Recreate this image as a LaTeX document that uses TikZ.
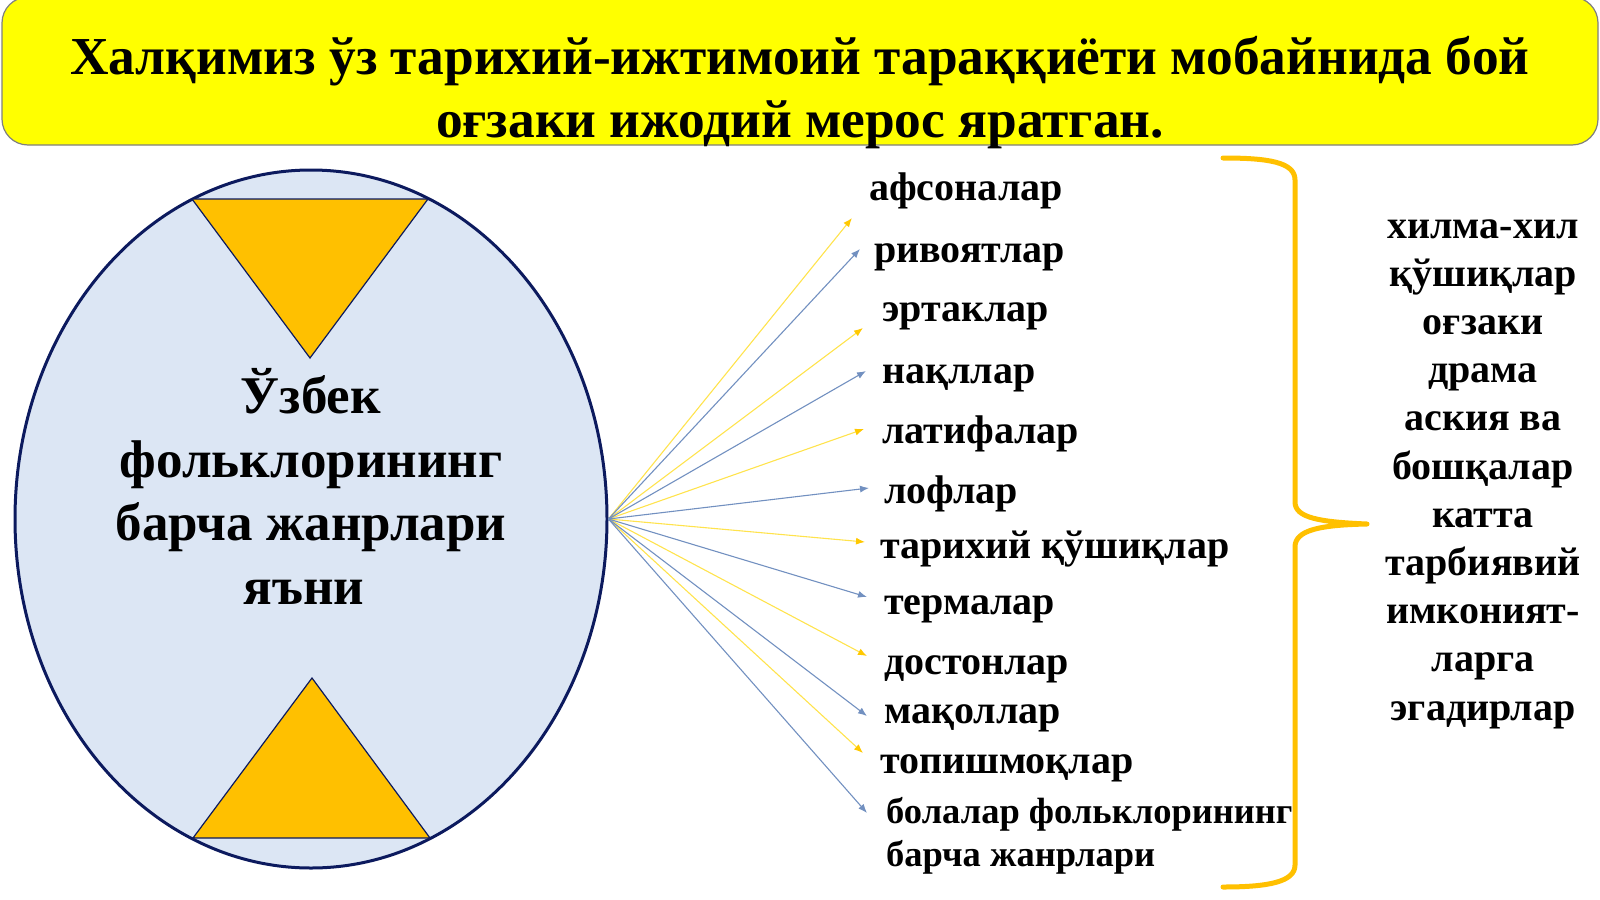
\documentclass[tikz,border=0pt]{standalone}
\usepackage{fontspec}
\setmainfont{Liberation Serif}
\usetikzlibrary{shapes.geometric,arrows.meta}
\definecolor{titleyellow}{HTML}{FFFF00}
\definecolor{titleline}{HTML}{7F7F7F}
\definecolor{ellfill}{HTML}{DCE6F4}
\definecolor{ellline}{HTML}{0C1A5E}
\definecolor{triorange}{HTML}{FFC000}
\definecolor{arry}{HTML}{FFE34D}
\definecolor{arryh}{HTML}{FFC800}
\definecolor{arrb}{HTML}{7290C0}
\begin{document}
\begin{tikzpicture}[x=1pt,y=-1pt,
  lbl/.style={anchor=base west,inner sep=0pt,font=\bfseries\fontsize{40}{40}\selectfont},
  yarr/.style={draw=arry,line width=1.1pt,-{Latex[length=9pt,width=7pt,color=arryh]}},
  barr/.style={draw=arrb,line width=1.1pt,-{Latex[length=9pt,width=7pt,color=arrb]}},
  tri/.style={fill=triorange,draw=ellline,line width=1.2pt,line join=miter}]
\useasboundingbox (0,0) rectangle (1600,899);
% title box
\node[draw=titleline,fill=titleyellow,line width=1.2pt,rounded corners=26pt,
  minimum width=1596pt,minimum height=148pt,inner sep=0pt] (title) at (800,71) {};
\node[align=center,inner sep=0pt,font=\bfseries\fontsize{53.4}{63}\selectfont] (titletext) at (800,93)
  {\strut Халқимиз ўз тарихий-ижтимоий тараққиёти мобайнида бой\\оғзаки ижодий мерос яратган.\strut};
% ellipse
\node[ellipse,draw=ellline,fill=ellfill,line width=3pt,minimum width=592pt,minimum height=698pt,inner sep=0pt] (E) at (311,519) {};
\draw[tri] (192,199) -- (428,199) -- (310,358) -- cycle;
\draw[tri] (193,838) -- (430,838) -- (312,678) -- cycle;
\node[align=center,inner sep=0pt,font=\bfseries\fontsize{53}{63.5}\selectfont] (ctext) at (311,496)
  {\strut Ўзбек\\фольклорининг\\барча жанрлари\\яъни\hspace*{14pt}\strut};
% labels
\node[lbl] (l1) at (869,200) {афсоналар};
\node[lbl] (l2) at (874,262) {ривоятлар};
\node[lbl] (l3) at (882,321) {эртаклар};
\node[lbl] (l4) at (882,383) {нақллар};
\node[lbl] (l5) at (882,443) {латифалар};
\node[lbl] (l6) at (884,503) {лофлар};
\node[lbl] (l7) at (880,558) {тарихий қўшиқлар};
\node[lbl] (l8) at (884,614) {термалар};
\node[lbl] (l9) at (884,674) {достонлар};
\node[lbl] (l10) at (884,723) {мақоллар};
\node[lbl] (l11) at (880,773) {топишмоқлар};
\node[anchor=west,align=left,inner sep=0pt,font=\bfseries\fontsize{36.5}{43}\selectfont] (l12) at (886,836)
  {\strut болалар фольклорининг\\барча жанрлари\strut};
% arrow tips
\coordinate (t1) at (852,218);
\coordinate (t2) at (860,249);
\coordinate (t3) at (863,328);
\coordinate (t4) at (866,371);
\coordinate (t5) at (864,429);
\coordinate (t6) at (869,488);
\coordinate (t7) at (865,542);
\coordinate (t8) at (867,597);
\coordinate (t9) at (867,656);
\coordinate (t10) at (867,716);
\coordinate (t11) at (863,753);
\coordinate (t12) at (867,813);
\foreach \i in {1,3,5,7,9,11} \draw[yarr] (E.east) -- (t\i);
\foreach \i in {2,4,6,8,10,12} \draw[barr] (E.east) -- (t\i);
% brace
\draw[triorange,line width=5pt,line cap=round,line join=round]
  (1223,158) .. controls (1268,158) and (1295,162) .. (1295,180) -- (1295,502)
  .. controls (1295,518) and (1320,522) .. (1367,524)
  .. controls (1320,525) and (1295,530) .. (1295,547) -- (1295,865)
  .. controls (1295,882) and (1268,887) .. (1223,887);
% right text
\node[align=center,inner sep=0pt,font=\bfseries\fontsize{40}{48.2}\selectfont] (rtext) at (1483,469.5)
  {\strut хилма-хил\\қўшиқлар\\оғзаки\\драма\\аския ва\\бошқалар\\катта\\тарбиявий\\имконият-\\ларга\\эгадирлар\strut};
\end{tikzpicture}
\end{document}
